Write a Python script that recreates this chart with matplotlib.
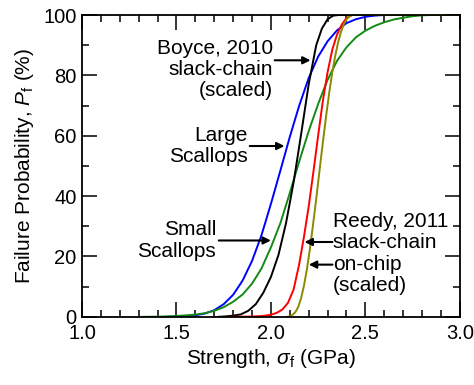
import numpy as np
import matplotlib.pyplot as plt
from matplotlib.ticker import MultipleLocator

plt.rcParams['font.family'] = ['Liberation Sans', 'DejaVu Sans']
plt.rcParams['mathtext.fontset'] = 'custom'
plt.rcParams['mathtext.rm'] = 'Liberation Sans'
plt.rcParams['mathtext.it'] = 'Liberation Sans:italic'

# strength (GPa) vs cumulative failure probability (%)
blue_x = [1.45, 1.50, 1.55, 1.60, 1.65, 1.70, 1.75, 1.80, 1.85, 1.90, 1.95, 2.00,
          2.05, 2.10, 2.15, 2.20, 2.25, 2.30, 2.35, 2.40, 2.45, 2.50, 2.55, 2.60, 3.0]
blue_p = [0, 0.1, 0.2, 0.5, 1.1, 2.2, 4.2, 7.3, 12.0, 18.5, 27.0, 37.4,
          48.4, 59.6, 70.0, 79.1, 86.2, 91.3, 94.9, 97.3, 98.6, 99.4, 99.8, 100, 100]

green_x = [1.32, 1.40, 1.45, 1.50, 1.55, 1.60, 1.65, 1.70, 1.75, 1.80, 1.85, 1.90,
           1.95, 2.00, 2.05, 2.10, 2.15, 2.20, 2.25, 2.30, 2.35, 2.40, 2.45, 2.50,
           2.55, 2.60, 2.65, 2.70, 2.75, 2.80, 2.85, 3.0]
green_p = [0, 0.05, 0.15, 0.3, 0.5, 0.75, 1.2, 2.0, 3.2, 5.0, 7.4, 11.0,
           16.0, 23.0, 31.0, 41.0, 51.5, 61.5, 70.5, 78.5, 84.8, 89.3, 92.6, 94.8,
           96.4, 97.6, 98.5, 99.1, 99.6, 99.9, 100, 100]

black_x = [1.72, 1.76, 1.80, 1.84, 1.88, 1.92, 1.96, 2.00, 2.04, 2.08, 2.12, 2.16,
           2.20, 2.24, 2.27, 2.30, 2.33, 2.36, 3.0]
black_p = [0, 0.15, 0.4, 0.8, 2.0, 4.2, 8.0, 13.2, 20.5, 31.0, 44.5, 60.5,
           77.0, 90.0, 95.5, 98.6, 99.8, 100, 100]

red_x = [1.78, 1.90, 1.96, 2.00, 2.03, 2.06, 2.09, 2.12, 2.15, 2.175, 2.20, 2.225,
         2.25, 2.275, 2.30, 2.325, 2.35, 2.375, 2.40, 2.43, 3.0]
red_p = [0, 0.1, 0.3, 0.7, 1.3, 2.4, 4.6, 9.0, 17.5, 26.5, 36.5, 48.0,
         60.0, 71.5, 81.0, 88.5, 93.5, 96.8, 99.0, 100, 100]

olive_x = [2.085, 2.10, 2.115, 2.13, 2.145, 2.16, 2.175, 2.19, 2.205, 2.22, 2.235,
           2.25, 2.265, 2.28, 2.295, 2.31, 2.325, 2.34, 2.355, 2.37, 2.385, 2.40,
           2.415, 2.43, 3.0]
olive_p = [0, 0.2, 0.7, 1.6, 3.3, 6.2, 10.3, 15.5, 21.8, 29.0, 36.5,
           44.5, 52.5, 60.3, 67.8, 74.8, 81.0, 86.3, 90.7, 94.2, 96.8, 98.5,
           99.5, 100, 100]

fig = plt.figure(figsize=(4.74, 3.85), dpi=100)
ax = fig.add_axes([0.173, 0.177, 0.797, 0.784])

lw = 1.4
ax.plot(blue_x, blue_p, color='#0000ff', lw=lw)
ax.plot(green_x, green_p, color='#138a13', lw=lw)
ax.plot(black_x, black_p, color='black', lw=lw)
ax.plot(red_x, red_p, color='#ff0000', lw=lw)
ax.plot(olive_x, olive_p, color='#8a8a00', lw=lw)

ax.set_xlim(1.0, 3.0)
ax.set_ylim(0, 100)
ax.xaxis.set_major_locator(MultipleLocator(0.5))
ax.xaxis.set_minor_locator(MultipleLocator(0.1))
ax.yaxis.set_major_locator(MultipleLocator(20))
ax.yaxis.set_minor_locator(MultipleLocator(10))
ax.xaxis.set_major_formatter(lambda v, pos: f'{v:.1f}')
ax.tick_params(which='both', direction='in', top=True, right=True,
               labelsize=14.5, width=1.1)
ax.tick_params(axis='x', pad=5)
ax.tick_params(axis='y', pad=4)
ax.tick_params(which='major', length=10.5)
ax.tick_params(which='minor', length=5.3)
for s in ax.spines.values():
    s.set_linewidth(1.3)

ax.set_xlabel(r'Strength, $\sigma_\mathrm{f}$ (GPa)', fontsize=15, labelpad=3)
ax.set_ylabel(r'Failure Probability, $P_\mathrm{f}$ (%)', fontsize=15, labelpad=5)

arrow = dict(arrowstyle='-|>', color='black', lw=1.5, mutation_scale=11,
             shrinkA=0, shrinkB=0)
fs = 15

ax.text(2.01, 82, 'Boyce, 2010\nslack-chain\n(scaled)', ha='right', va='center',
        fontsize=fs, linespacing=1.15)
ax.annotate('', xy=(2.21, 85), xytext=(2.02, 85), arrowprops=arrow)

ax.text(1.878, 56.5, 'Large\nScallops', ha='right', va='center',
        fontsize=fs, linespacing=1.15)
ax.annotate('', xy=(2.072, 56.6), xytext=(1.888, 56.6), arrowprops=arrow)

ax.text(1.71, 25.3, 'Small\nScallops', ha='right', va='center',
        fontsize=fs, linespacing=1.15)
ax.annotate('', xy=(2.00, 25.3), xytext=(1.724, 25.3), arrowprops=arrow)

ax.text(2.328, 21, 'Reedy, 2011\nslack-chain\non-chip\n(scaled)', ha='left', va='center',
        fontsize=fs, linespacing=1.15)
ax.annotate('', xy=(2.178, 24.8), xytext=(2.326, 24.8), arrowprops=arrow)
ax.annotate('', xy=(2.201, 17.3), xytext=(2.326, 17.3), arrowprops=arrow)

fig.savefig('out.png', dpi=100)
